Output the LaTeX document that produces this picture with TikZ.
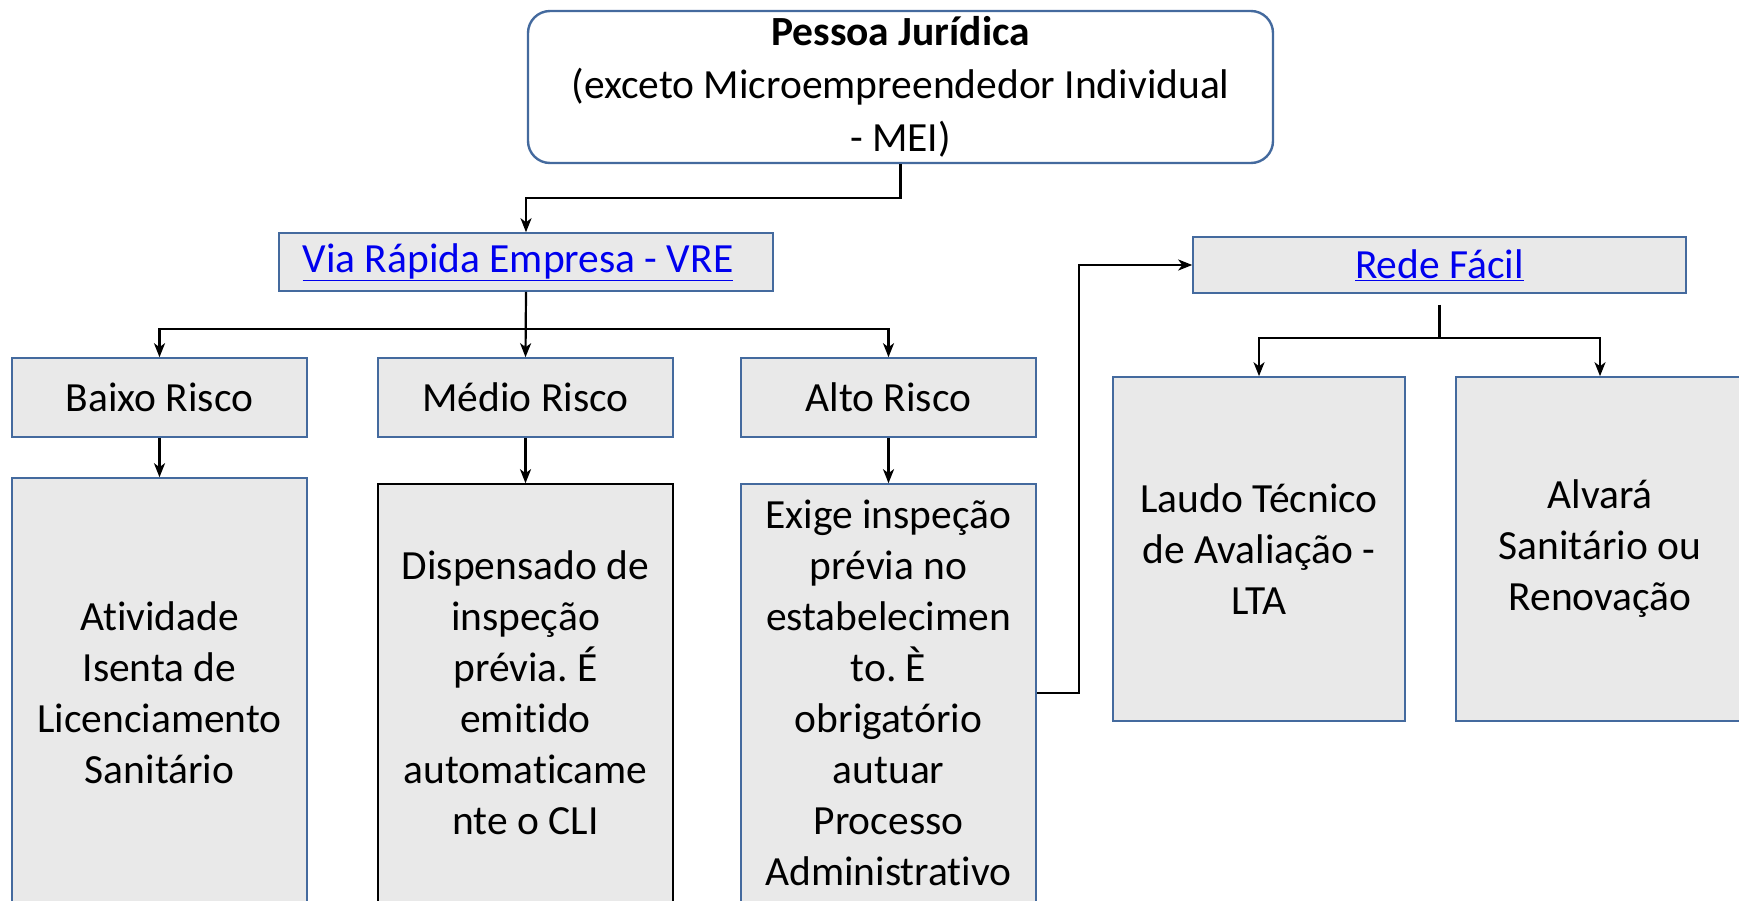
\documentclass[tikz,border=0pt]{standalone}
\usepackage{fontspec}
\setmainfont{Carlito}[Ligatures=NoCommon]
\usetikzlibrary{arrows.meta}
\definecolor{boxline}{RGB}{68,106,158}
\definecolor{boxfill}{RGB}{233,233,233}
\definecolor{linkblue}{RGB}{0,0,238}
\frenchspacing
\begin{document}
\begin{tikzpicture}[x=1pt,y=-1pt,
  box/.style={draw=boxline, line width=1.6pt, fill=boxfill, align=center, inner sep=0pt, font=\fontsize{41.5}{51}\selectfont},
  riskbox/.style={box, minimum width=295pt, minimum height=79pt},
  textbox/.style={box, minimum width=295pt},
  conn/.style={-{Stealth[length=14pt,width=11pt,inset=4pt]}, line width=2.2pt}]
\useasboundingbox (0,0) rectangle (1739,900);
\clip (0,0) rectangle (1739,900);
\node [box, fill=white, rounded corners=22pt, line width=2.4pt, minimum width=745pt, minimum height=152pt, font=\fontsize{41.5}{53}\selectfont] (pj) at (900.5,87) {\textbf{Pessoa Jurídica}\\(exceto Microempreendedor Individual\\- MEI)};
\node [box, minimum width=494pt, minimum height=58pt, text=linkblue] (vre) at (526,262) {\underline{Via Rápida Empresa - VRE}\hspace{16pt}};
\node [box, minimum width=493pt, minimum height=56pt, text=linkblue] (rede) at (1439.5,265) {\underline{Rede Fácil}};
\node [riskbox] (baixo) at (159.5,397.5) {Baixo Risco};
\node [riskbox] (medio) at (525.5,397.5) {Médio Risco};
\node [riskbox] (alto) at (888.5,397.5) {Alto Risco};
\node [textbox, minimum height=430pt] (baixolow) at (159.5,693) {Atividade\\Isenta de\\Licenciamento\\Sanitário};
\node [textbox, draw=black, minimum height=418pt] (mediolow) at (525.5,693) {Dispensado de\\inspeção\\prévia. É\\emitido\\automaticame\\nte o CLI};
\node [textbox, minimum height=418pt] (altolow) at (888.5,693) {Exige inspeção\\prévia no\\estabelecimen\\to. È\\obrigatório\\autuar\\Processo\\Administrativo};
\node [box, minimum width=292pt, minimum height=344pt] (laudo) at (1259,549) {Laudo Técnico\\de Avaliação -\\LTA};
\node [box, minimum width=288pt, minimum height=344pt] (alvara) at (1600,549) {Alvará\\Sanitário ou\\Renovação};
\draw [conn] (pj.south) -- ++(0,34) -| (vre.north);
\draw [conn] (vre.south) -- ++(0,37) -| (baixo.north);
\draw [conn] (vre.south) -- ++(0,37) -| (alto.north);
\draw [conn] (vre.south) -- (medio.north);
\draw [conn] (baixo.south) -- (baixolow.north);
\draw [conn] (medio.south) -- (mediolow.north);
\draw [conn] (alto.south) -- (altolow.north);
\draw [conn] (altolow.east) -- ++(42,0) |- (rede.west);
\draw [conn, shorten <=11pt] (rede.south) -- ++(0,44) -| (laudo.north);
\draw [conn, shorten <=11pt] (rede.south) -- ++(0,44) -| (alvara.north);
\end{tikzpicture}
\end{document}
